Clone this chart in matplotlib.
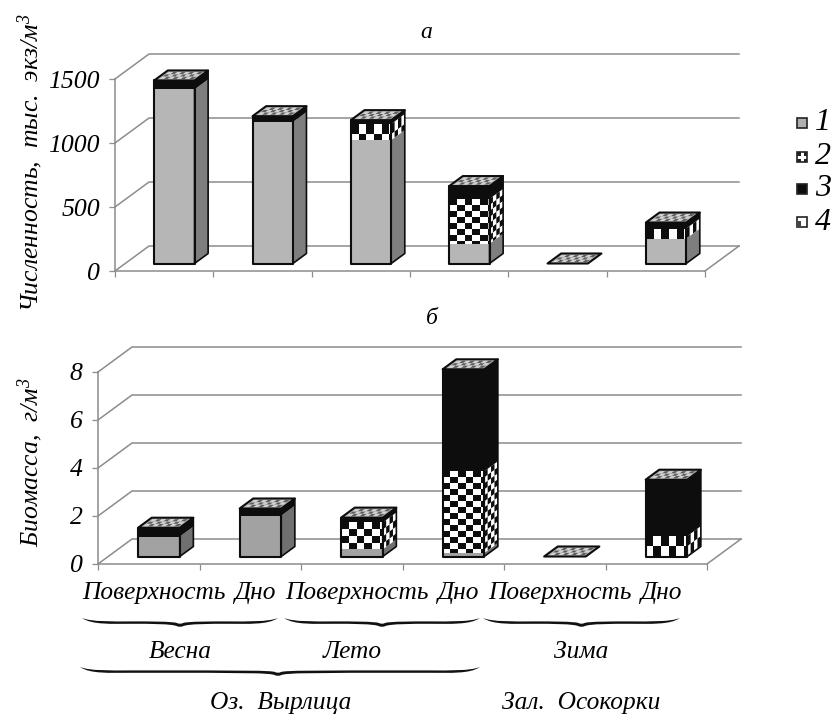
import matplotlib
matplotlib.use('Agg')
import matplotlib.pyplot as plt
from matplotlib.collections import PolyCollection
from matplotlib.patches import PathPatch, Polygon, Rectangle
from matplotlib.path import Path

plt.rcParams['font.family'] = ['Liberation Serif', 'DejaVu Serif']
plt.rcParams['font.style'] = 'italic'
plt.rcParams['mathtext.fontset'] = 'custom'
plt.rcParams['mathtext.rm'] = 'Liberation Serif:italic'
plt.rcParams['mathtext.it'] = 'Liberation Serif:italic'

# values, one per column
count_1 = [1360, 1105, 965, 155, 0, 195]
count_2 = [0, 0, 125, 350, 0, 78]
count_3 = [70, 46, 30, 100, 0, 47]
mass_1 = [0.83, 1.7, 0.3, 0.15, 0, 0]
mass_2 = [0, 0, 1.12, 3.4, 0, 0.85]
mass_3 = [0.37, 0.3, 0.2, 4.25, 0, 2.35]

count_ticks = [0, 500, 1000, 1500]
mass_ticks = [0, 2, 4, 6, 8]
column_labels = ['Поверхность', 'Дно', 'Поверхность', 'Дно', 'Поверхность', 'Дно']
legend_labels = ['1', '2', '3', '4']

W, H = 831, 715
BLACK = '#0d0d0d'
GRID = '#8c8c8c'


def add_panel(left, right, bottom, top, ymax, yticks):
    ax = fig.add_axes([left / W, 1 - bottom / H, (right - left) / W, (bottom - top) / H])
    ax.set_xlim(0, 6)
    ax.set_ylim(0, ymax)
    ax.patch.set_visible(False)
    ax.spines[['top', 'right']].set_visible(False)
    ax.spines[['left', 'bottom']].set_color(GRID)
    ax.spines[['left', 'bottom']].set_linewidth(1.1)
    ax.set_xticks(range(7))
    ax.set_xticklabels([])
    ax.set_yticks(yticks)
    ax.tick_params(length=4.5, width=0.9, color=GRID, labelsize=18.5)
    ax.tick_params(axis='y', pad=6.5)
    ax.per_px_x = 6 / (right - left)
    ax.per_px_y = ymax / (bottom - top)
    return ax


def pt(ax, x, y, z):
    # oblique projection: z=0 is the front plane, z=1 the back wall
    return (x + z * 34 * ax.per_px_x, y + z * 25 * ax.per_px_y)


def draw_walls(ax, yticks):
    for v in yticks:
        a, b, c = pt(ax, 0, v, 0), pt(ax, 0, v, 1), pt(ax, 6, v, 1)
        ax.plot([a[0], b[0], c[0]], [a[1], b[1], c[1]], color=GRID, lw=1.1, clip_on=False, zorder=1)
    a, b = pt(ax, 6, 0, 0), pt(ax, 6, 0, 1)
    ax.plot([a[0], b[0]], [a[1], b[1]], color=GRID, lw=1.1, clip_on=False, zorder=1)


def add_poly(ax, pts, face, edge='none', lw=0, zorder=3):
    ax.add_patch(Polygon(pts, closed=True, facecolor=face, edgecolor=edge, linewidth=lw,
                         joinstyle='round', clip_on=False, zorder=zorder))


def checker(ax, face, y0, y1, cols):
    # black and white cells on one bar face, rows counted from the top
    h = (y1 - y0) / ax.per_px_y
    row_h = 6 if h >= 40 else 7 if h >= 24 else 10
    row_h *= ax.per_px_y
    cells = []
    row = 0
    y = y1
    while y > y0 + 1e-6:
        low = max(y - row_h, y0)
        for c in range(int(cols) + 1):
            u0, u1 = c / cols, min((c + 1) / cols, 1)
            if u0 < 1 and (c + row) % 2 == 0:
                cells.append([face(u0, low), face(u1, low), face(u1, y), face(u0, y)])
        y = low
        row += 1
    ax.add_collection(PolyCollection(cells, facecolors=BLACK, edgecolors='none', clip_on=False, zorder=3.1))


def draw_lid(ax, x0, w, top, z0, z1):
    lid = lambda u, v: pt(ax, x0 + u * w, top, z0 + v * (z1 - z0))
    add_poly(ax, [lid(0, 0), lid(1, 0), lid(1, 1), lid(0, 1)], '#b4b4b4', BLACK, 1.5, zorder=3.3)
    dark, light = [], []
    nu, nv = 8, 3
    for i in range(nu):
        for j in range(nv):
            u0, u1 = 0.08 + 0.84 * i / nu, 0.08 + 0.84 * (i + 1) / nu
            v0, v1 = 0.15 + 0.7 * j / nv, 0.15 + 0.7 * (j + 1) / nv
            cell = [lid(u0, v0), lid(u1, v0), lid(u1, v1), lid(u0, v1)]
            ((dark if (i + j) % 2 else light)).append(cell)
    ax.add_collection(PolyCollection(dark, facecolors='#5e5e5e', edgecolors='none', clip_on=False, zorder=3.4))
    ax.add_collection(PolyCollection(light, facecolors='#d2d2d2', edgecolors='none', clip_on=False, zorder=3.4))


def draw_column(ax, i, grey, check, black, front_grey, side_grey):
    x0, w = i + 0.295, 0.41
    z0, z1 = 0.3, 0.7
    y = 0
    for value, kind in zip([grey, check, black], 'gcb'):
        if value <= 0:
            continue
        y0, y1 = y, y + value
        front = lambda u, v: pt(ax, x0 + u * w, v, z0)
        side = lambda u, v: pt(ax, x0 + w, v, z0 + u * (z1 - z0))
        for face, shade, cols in [(front, front_grey, w / ax.per_px_x / 7.7), (side, side_grey, 4)]:
            corners = [face(0, y0), face(1, y0), face(1, y1), face(0, y1)]
            if kind == 'g':
                add_poly(ax, corners, shade)
            elif kind == 'b':
                add_poly(ax, corners, BLACK)
            else:
                add_poly(ax, corners, 'white')
                checker(ax, face, y0, y1, cols)
        y = y1
    # outer outline of the box
    if y > 0:
        f = lambda x, v, z: pt(ax, x, v, z)
        add_poly(ax, [f(x0, 0, z0), f(x0 + w, 0, z0), f(x0 + w, y, z0), f(x0, y, z0)], 'none', BLACK, 1.5, zorder=3.2)
        add_poly(ax, [f(x0 + w, 0, z0), f(x0 + w, 0, z1), f(x0 + w, y, z1), f(x0 + w, y, z0)], 'none', BLACK, 1.2, zorder=3.2)
    draw_lid(ax, x0, w, y, z0, z1)


def brace(x0, x1, y, tip=None):
    # y is the top of the curled ends, the flat part runs about 4 px lower
    tip = (x0 + x1) / 2 if tip is None else tip
    upper = y + 3.4
    lower = y + 5.8
    verts = [(x0, y)]
    verts += [(x0 + 10, y + 4), (x0 + 30, upper), (x0 + 50, upper)]
    verts += [(tip - 30, upper), (tip - 8, upper), (tip - 3, y + 5)]
    verts += [(tip - 1, y + 6), (tip + 1, y + 6), (tip + 3, y + 5)]
    verts += [(tip + 8, upper), (tip + 30, upper), (x1 - 50, upper)]
    verts += [(x1 - 30, upper), (x1 - 10, y + 4), (x1, y)]
    verts += [(x1 - 10, y + 7), (x1 - 30, lower), (x1 - 50, lower)]
    verts += [(tip + 30, lower), (tip + 8, lower), (tip + 3, y + 8.2)]
    verts += [(tip + 1, y + 9), (tip - 1, y + 9), (tip - 3, y + 8.2)]
    verts += [(tip - 8, lower), (tip - 30, lower), (x0 + 50, lower)]
    verts += [(x0 + 30, lower), (x0 + 10, y + 7), (x0, y)]
    codes = [Path.MOVETO] + [Path.CURVE4] * (len(verts) - 1)
    over.add_patch(PathPatch(Path(verts, codes), facecolor='#111111', edgecolor='none'))


fig = plt.figure(figsize=(8.31, 7.15), dpi=100, facecolor='white')

ax_a = add_panel(115, 705, 271, 79, 1500, count_ticks)
ax_b = add_panel(98, 707, 564, 372, 8, mass_ticks)
draw_walls(ax_a, count_ticks)
draw_walls(ax_b, mass_ticks)

for i in range(6):
    draw_column(ax_a, i, count_1[i], count_2[i], count_3[i], '#b6b6b6', '#7e7e7e')
    draw_column(ax_b, i, mass_1[i], mass_2[i], mass_3[i], '#a2a2a2', '#707070')

ax_b.set_xticks([i + 0.55 for i in range(6)], minor=True)
ax_b.set_xticklabels(column_labels, minor=True, fontsize=18.3)
ax_b.tick_params(axis='x', which='minor', length=0, pad=13)

# everything outside the two plots sits on an overlay in picture pixels
over = fig.add_axes([0, 0, 1, 1])
over.set_xlim(0, W)
over.set_ylim(H, 0)
over.axis('off')
over.patch.set_visible(False)

over.text(426, 32, 'а', fontsize=17, ha='center', va='center')
over.text(432, 318, 'б', fontsize=17, ha='center', va='center')
over.text(30, 163, 'Численность,  тыс.  экз/м$^{3}$', fontsize=18.5, rotation=90, ha='center', va='center')
over.text(30, 462, 'Биомасса,  г/м$^{3}$', fontsize=18.5, rotation=90, ha='center', va='center')

brace(82, 278, 618)
brace(284, 480, 618)
brace(483, 680, 618)
brace(80, 480, 667, tip=278)
for x, y, s in [(180, 652, 'Весна'), (352, 652, 'Лето'), (581, 652, 'Зима'),
                (281, 703, 'Оз.  Вырлица'), (581, 703, 'Зал.  Осокорки')]:
    over.text(x, y, s, fontsize=18.3, ha='center', va='center')

# legend
for label, y, kind in zip(legend_labels, [123, 157, 189, 222], 'gcbl'):
    face = {'g': '#b0b0b0', 'c': 'white', 'b': BLACK, 'l': 'white'}[kind]
    over.add_patch(Rectangle((797, y - 5), 10, 10, facecolor=face, edgecolor='#222222', linewidth=1.2))
    if kind == 'c':
        for dx, dy in [(0, 0), (6.5, 0), (0, 6.5), (6.5, 6.5)]:
            over.add_patch(Rectangle((797 + dx, y - 5 + dy), 3.5, 3.5, facecolor='#222222'))
    if kind == 'l':
        over.add_patch(Rectangle((797, y - 1), 4, 6, facecolor='#444444'))
    over.text(815, y, label, fontsize=23, ha='left', va='center')

fig.savefig('out.png', dpi=100)
